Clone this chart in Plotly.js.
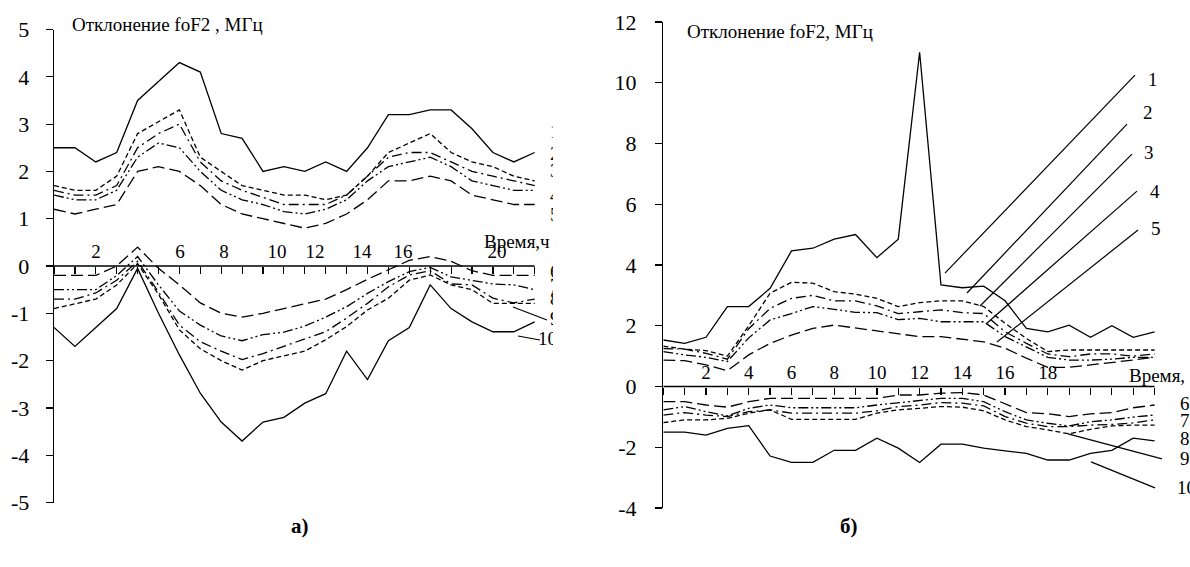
<!DOCTYPE html>
<html>
<head>
<meta charset="utf-8">
<script src="https://cdn.plot.ly/plotly-3.0.1.min.js"></script>
<style>html,body{margin:0;padding:0;background:#fff;}#chart{width:1190px;height:567px;}</style>
</head>
<body>
<div id="chart"></div>
<script>
// ---------- data ----------
const hours = [0,1,2,3,4,5,6,7,8,9,10,11,12,13,14,15,16,17,18,19,20,21,22,23];

// panel a)
const a1 = [2.5,2.5,2.2,2.4,3.5,3.9,4.3,4.1,2.8,2.7,2.0,2.1,2.0,2.2,2.0,2.5,3.2,3.2,3.3,3.3,2.9,2.4,2.2,2.4];
const a2 = [1.7,1.6,1.6,1.9,2.8,3.05,3.3,2.3,2.0,1.7,1.6,1.5,1.5,1.4,1.5,1.9,2.4,2.6,2.8,2.4,2.2,2.1,1.9,1.8];
const a3 = [1.6,1.5,1.5,1.7,2.5,2.8,3.0,2.2,1.8,1.6,1.45,1.3,1.3,1.3,1.5,1.9,2.3,2.4,2.4,2.2,2.0,1.9,1.8,1.7];
const a4 = [1.5,1.4,1.4,1.6,2.3,2.6,2.5,2.0,1.6,1.4,1.3,1.15,1.1,1.2,1.4,1.8,2.1,2.2,2.3,2.1,1.8,1.7,1.6,1.6];
const a5 = [1.2,1.1,1.2,1.3,2.0,2.1,2.0,1.7,1.3,1.1,1.0,0.9,0.8,0.9,1.1,1.4,1.8,1.8,1.9,1.8,1.5,1.4,1.3,1.3];
const a6 = [-0.2,-0.2,-0.2,0.0,0.4,-0.05,-0.4,-0.78,-1.0,-1.08,-1.0,-0.9,-0.8,-0.7,-0.5,-0.28,-0.08,0.12,0.2,0.1,-0.1,-0.2,-0.2,-0.2];
const a7 = [-0.5,-0.5,-0.5,-0.2,0.2,-0.4,-0.95,-1.25,-1.48,-1.58,-1.45,-1.4,-1.27,-1.08,-0.86,-0.58,-0.33,-0.12,-0.03,-0.23,-0.3,-0.38,-0.4,-0.5];
const a8 = [-0.7,-0.7,-0.57,-0.3,0.1,-0.55,-1.25,-1.6,-1.8,-1.98,-1.85,-1.7,-1.55,-1.39,-1.1,-0.79,-0.44,-0.19,-0.1,-0.38,-0.4,-0.68,-0.78,-0.7];
const a9 = [-0.9,-0.8,-0.7,-0.4,0.05,-0.6,-1.35,-1.75,-2.0,-2.2,-2.0,-1.9,-1.8,-1.56,-1.28,-0.93,-0.68,-0.3,-0.19,-0.4,-0.5,-0.79,-0.79,-0.79];
const a10 = [-1.3,-1.7,-1.3,-0.9,-0.05,-1.0,-1.88,-2.69,-3.3,-3.7,-3.3,-3.2,-2.9,-2.7,-1.8,-2.4,-1.58,-1.3,-0.4,-0.9,-1.18,-1.39,-1.39,-1.18];

// panel б)
const b1 = [1.53,1.42,1.62,2.63,2.63,3.23,4.46,4.55,4.85,5.0,4.24,4.85,11.0,3.34,3.25,3.3,2.82,1.91,1.8,2.02,1.62,2.0,1.62,1.8];
const b2 = [1.33,1.23,1.18,1.0,2.0,3.07,3.43,3.4,3.12,3.04,2.9,2.63,2.76,2.82,2.82,2.63,2.08,1.58,1.15,1.2,1.2,1.2,1.2,1.2];
const b3 = [1.25,1.23,1.09,0.9,1.9,2.57,2.9,3.0,2.82,2.82,2.65,2.4,2.46,2.52,2.43,2.4,1.8,1.42,1.07,0.98,1.07,1.07,1.0,1.07];
const b4 = [1.15,1.04,0.96,0.82,1.6,2.19,2.4,2.63,2.54,2.44,2.43,2.2,2.24,2.13,2.13,2.13,1.64,1.31,0.96,0.87,0.87,0.9,0.96,0.96];
const b5 = [0.87,0.85,0.71,0.52,1.04,1.42,1.69,1.91,2.02,1.93,1.84,1.73,1.64,1.64,1.55,1.47,1.26,0.93,0.63,0.63,0.71,0.78,0.87,0.96];
const b6 = [-0.5,-0.5,-0.61,-0.68,-0.5,-0.39,-0.39,-0.39,-0.39,-0.39,-0.39,-0.28,-0.28,-0.22,-0.2,-0.28,-0.58,-0.86,-0.9,-0.99,-0.9,-0.86,-0.7,-0.61];
const b7 = [-0.77,-0.66,-0.83,-0.97,-0.72,-0.61,-0.7,-0.7,-0.7,-0.7,-0.61,-0.53,-0.47,-0.39,-0.39,-0.5,-0.83,-1.1,-1.21,-1.3,-1.16,-1.1,-1.01,-0.94];
const b8 = [-0.94,-0.86,-0.94,-0.99,-0.83,-0.77,-0.88,-0.88,-0.88,-0.88,-0.8,-0.66,-0.61,-0.53,-0.55,-0.64,-0.99,-1.21,-1.32,-1.32,-1.27,-1.25,-1.2,-1.1];
const b9 = [-1.19,-1.1,-1.1,-1.05,-0.88,-0.77,-1.08,-1.08,-1.08,-1.08,-0.88,-0.77,-0.72,-0.66,-0.68,-0.8,-1.1,-1.32,-1.43,-1.56,-1.41,-1.3,-1.27,-1.27];
const b10 = [-1.5,-1.5,-1.6,-1.38,-1.29,-2.29,-2.5,-2.5,-2.1,-2.1,-1.7,-2.03,-2.5,-1.9,-1.9,-2.03,-2.12,-2.2,-2.42,-2.42,-2.2,-2.1,-1.7,-1.79];

// tick labels
const xTickTextA = ['2','6','8','10','12','14','16','20'];
const xTickValsB = [2,4,6,8,10,12,14,16,18];
const xTickTextB = ['2','4','6','8','10','12','14','16','18'];
const yTickValsA = [-5,-4,-3,-2,-1,0,1,2,3,4,5];
const yTickTextA = ['-5','-4','-3','-2','-1','0','1','2','3','4','5'];
const yTickValsB = [-4,-2,0,2,4,6,8,10,12];
const yTickTextB = ['-4','-2','0','2','4','6','8','10','12'];
const seriesNames = ['1','2','3','4','5','6','7','8','9','10'];
const titleA = 'Отклонение foF2 , МГц';
const titleB = 'Отклонение foF2, МГц';
const timeLabelA = 'Время,ч';
const timeLabelB = 'Время, ч';

// ---------- styles ----------
const W = 1190, H = 567;
const FONT = "'Liberation Serif', 'Times New Roman', serif";
const dashes = {
  solid: 'solid',
  short: '5px,3px',
  long: '12px,5px',
  dashdot: '10px,4px,2px,4px',
  dashdotdot: '10px,3px,2px,3px,2px,3px'
};
const topStyles = [dashes.solid, dashes.short, dashes.dashdot, dashes.dashdotdot, dashes.long];
const botStyles = [dashes.long, dashes.dashdotdot, dashes.dashdot, dashes.short, dashes.solid];

const seriesA = [a1,a2,a3,a4,a5,a6,a7,a8,a9,a10];
const seriesB = [b1,b2,b3,b4,b5,b6,b7,b8,b9,b10];
const styles = topStyles.concat(botStyles);

const traces = [];
seriesA.forEach((s,i) => traces.push({
  x: hours, y: s, xaxis: 'x', yaxis: 'y', mode: 'lines', name: seriesNames[i],
  line: {color: '#000', width: 1.3, dash: styles[i]}, hoverinfo: 'skip'
}));
seriesB.forEach((s,i) => traces.push({
  x: hours, y: s, xaxis: 'x2', yaxis: 'y2', mode: 'lines', name: seriesNames[i],
  line: {color: '#000', width: 1.3, dash: styles[i]}, hoverinfo: 'skip'
}));
// empty helper traces so that the overlaid label axes get their subplots
traces.push({x: [], y: [], xaxis: 'x3', yaxis: 'y', mode: 'lines', hoverinfo: 'skip'});
traces.push({x: [], y: [], xaxis: 'x4', yaxis: 'y2', mode: 'lines', hoverinfo: 'skip'});

// panel geometry (pixel -> data)
const aX0 = 54, aPxPerH = 20.9, aY0 = 266, aPxPerU = 47.3;
const ax = p => (p - aX0) / aPxPerH;
const ay = p => (aY0 - p) / aPxPerU;
const bX0 = 663.3, bPxPerH = 21.36, bY0 = 386.5, bPxPerU = 30.4;
const bx = p => (p - bX0) / bPxPerH;
const by = p => (bY0 - p) / bPxPerU;

// clipped labels on panel a (drawn as text so that the plot area clips them)
const aLabelPy = [133, 155, 172, 197, 216, 273, 287, 300, 320, 340];
const aLabelPx = [550, 550, 550, 550, 550, 550, 550, 550, 550, 538];
traces.push({
  x: aLabelPx.map(ax), y: aLabelPy.map(ay), xaxis: 'x', yaxis: 'y',
  mode: 'text', text: seriesNames, textposition: 'middle right',
  textfont: {family: FONT, size: 19, color: '#000'}, cliponaxis: true, hoverinfo: 'skip'
});
traces.push({
  x: [ax(484)], y: [ay(243)], xaxis: 'x', yaxis: 'y',
  mode: 'text', text: [timeLabelA], textposition: 'middle right',
  textfont: {family: FONT, size: 19, color: '#000'}, cliponaxis: true, hoverinfo: 'skip'
});

const xTickPosA = [96, 180, 224, 277, 315, 362, 403, 497].map(ax);

const zeroA = 1 - aY0 / H;
const zeroB = 1 - bY0 / H;
const tickFontX = {family: FONT, size: 19, color: '#000'};
const tickFontY = {family: FONT, size: 22, color: '#000'};
const rangeA = [0, (553 - aX0) / aPxPerH];
const rangeB = [0, (W - bX0) / bPxPerH];

const layout = {
  width: W, height: H,
  margin: {l: 0, r: 0, t: 0, b: 0, pad: 0},
  paper_bgcolor: '#fff', plot_bgcolor: 'rgba(0,0,0,0)',
  showlegend: false,
  font: {family: FONT, color: '#000', size: 18},
  xaxis: {
    domain: [aX0 / W, 553 / W], range: rangeA,
    tickmode: 'array', tickvals: hours, showticklabels: false,
    ticks: 'outside', ticklen: 7, tickwidth: 1.2, tickcolor: '#000',
    showgrid: false, zeroline: false, showline: false,
    anchor: 'free', position: zeroA, fixedrange: true
  },
  xaxis3: {
    overlaying: 'x', side: 'top', range: rangeA,
    tickmode: 'array', tickvals: xTickPosA, ticktext: xTickTextA,
    ticks: '', tickfont: tickFontX, ticklabelstandoff: 4,
    showgrid: false, zeroline: false, showline: false,
    anchor: 'free', position: zeroA, fixedrange: true
  },
  yaxis: {
    domain: [1 - 502.5 / H, 1 - 29.5 / H], range: [-5, 5],
    tickmode: 'array', tickvals: yTickValsA, ticktext: yTickTextA,
    ticks: 'outside', ticklen: 7, tickwidth: 1.2, tickcolor: '#000',
    tickfont: tickFontY, ticklabelstandoff: 12,
    showline: true, linecolor: '#000', linewidth: 1.3,
    showgrid: false, zeroline: false, anchor: 'x', fixedrange: true
  },
  xaxis2: {
    domain: [bX0 / W, 1], range: rangeB,
    tickmode: 'array', tickvals: hours, showticklabels: false,
    ticks: 'outside', ticklen: 7, tickwidth: 1.2, tickcolor: '#000',
    showgrid: false, zeroline: false, showline: false,
    anchor: 'free', position: zeroB, fixedrange: true
  },
  xaxis4: {
    overlaying: 'x2', side: 'top', range: rangeB,
    tickmode: 'array', tickvals: xTickValsB, ticktext: xTickTextB,
    ticks: '', tickfont: tickFontX, ticklabelstandoff: 4,
    showgrid: false, zeroline: false, showline: false,
    anchor: 'free', position: zeroB, fixedrange: true
  },
  yaxis2: {
    domain: [1 - 508 / H, 1 - 21.9 / H], range: [-4, 12],
    tickmode: 'array', tickvals: yTickValsB, ticktext: yTickTextB,
    ticks: 'outside', ticklen: 7, tickwidth: 1.2, tickcolor: '#000',
    tickfont: tickFontY, ticklabelstandoff: 14,
    showline: true, linecolor: '#000', linewidth: 1.3,
    showgrid: false, zeroline: false, anchor: 'x2', fixedrange: true
  },
  shapes: [
    // horizontal axis lines at zero
    {type: 'line', xref: 'x', yref: 'y', x0: 0, x1: 23, y0: 0, y1: 0, line: {color: '#000', width: 1.3}},
    {type: 'line', xref: 'x2', yref: 'y2', x0: 0, x1: 23, y0: 0, y1: 0, line: {color: '#000', width: 1.3}},
    // leader lines panel a
    {type: 'line', xref: 'x', yref: 'y', x0: ax(513), y0: ay(307), x1: ax(547), y1: ay(320), line: {color: '#000', width: 1.2}},
    {type: 'line', xref: 'x', yref: 'y', x0: ax(518), y0: ay(336), x1: ax(540), y1: ay(340), line: {color: '#000', width: 1.2}},
    // leader lines panel б
    {type: 'line', xref: 'x2', yref: 'y2', x0: bx(1135), y0: by(75), x1: bx(945), y1: by(273), line: {color: '#000', width: 1.2}},
    {type: 'line', xref: 'x2', yref: 'y2', x0: bx(1127), y0: by(124), x1: bx(967), y1: by(293), line: {color: '#000', width: 1.2}},
    {type: 'line', xref: 'x2', yref: 'y2', x0: bx(1132), y0: by(154), x1: bx(980), y1: by(306), line: {color: '#000', width: 1.2}},
    {type: 'line', xref: 'x2', yref: 'y2', x0: bx(1137), y0: by(191), x1: bx(986), y1: by(324), line: {color: '#000', width: 1.2}},
    {type: 'line', xref: 'x2', yref: 'y2', x0: bx(1138), y0: by(230), x1: bx(997), y1: by(342), line: {color: '#000', width: 1.2}},
    {type: 'line', xref: 'x2', yref: 'y2', x0: bx(1068), y0: by(434), x1: bx(1162), y1: by(459), line: {color: '#000', width: 1.2}},
    {type: 'line', xref: 'x2', yref: 'y2', x0: bx(1091), y0: by(462), x1: bx(1155), y1: by(488), line: {color: '#000', width: 1.2}}
  ],
  annotations: []
};

function ann(text, px, py, opts) {
  layout.annotations.push(Object.assign({
    text: text, xref: 'paper', yref: 'paper', x: px / W, y: 1 - py / H,
    xanchor: 'left', yanchor: 'middle', showarrow: false,
    font: {family: FONT, size: 19, color: '#000'}
  }, opts || {}));
}
ann(titleA, 70, 25);
ann(titleB, 685, 31);
ann('<b>а)</b>', 300, 526, {xanchor: 'center', font: {family: FONT, size: 21, color: '#000'}});
ann('<b>б)</b>', 849, 526, {xanchor: 'center', font: {family: FONT, size: 21, color: '#000'}});
ann(timeLabelB, 1127, 375);
const bTopLbl = [[1153,79],[1148,113],[1149,153],[1155,191],[1156,229]];
bTopLbl.forEach((p,i) => ann(seriesNames[i], p[0], p[1], {xanchor: 'center'}));
const bBotLbl = [[1178,403], [1178,420], [1178,438], [1178,458], [1175,487]];
bBotLbl.forEach((p,i) => ann(seriesNames[i + 5], p[0], p[1]));

Plotly.newPlot('chart', traces, layout, {staticPlot: true, displayModeBar: false});
</script>
</body>
</html>
